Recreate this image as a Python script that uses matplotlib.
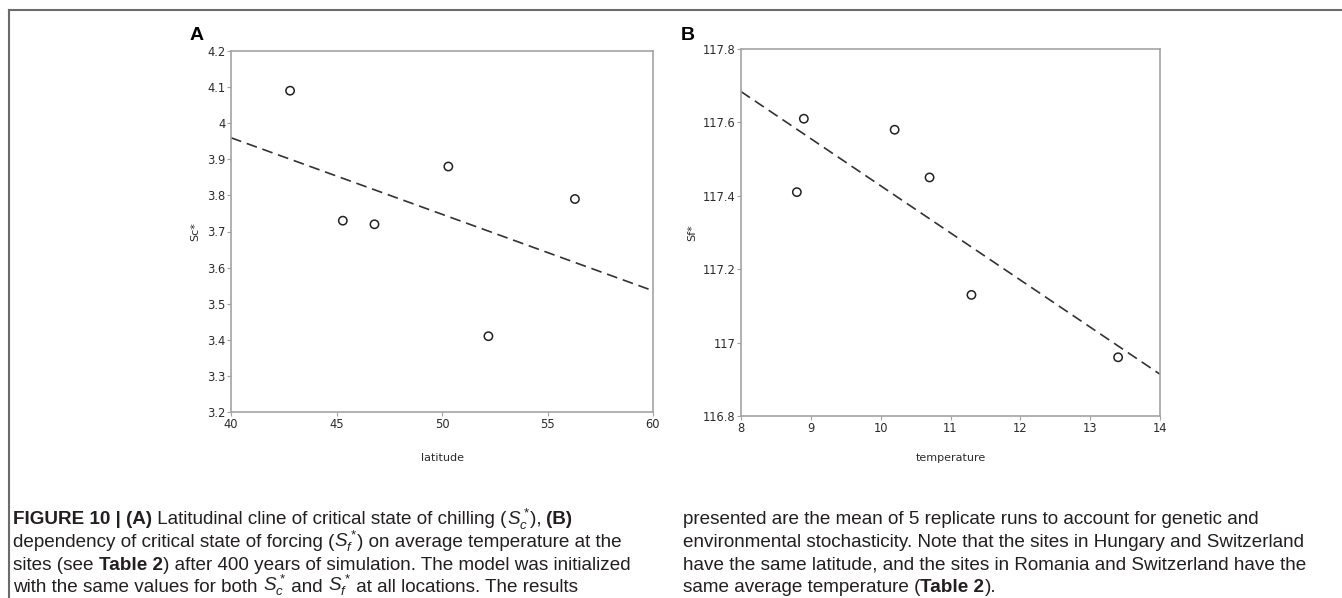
import numpy as np
import matplotlib
matplotlib.use("Agg")
import matplotlib.pyplot as plt
from matplotlib.lines import Line2D

# data
lat = [42.8, 45.3, 46.8, 50.3, 52.2, 56.3]
sc = [4.09, 3.73, 3.72, 3.88, 3.41, 3.79]
temp = [8.8, 8.9, 10.2, 10.7, 11.3, 13.4]
sf = [117.41, 117.61, 117.58, 117.45, 117.13, 116.96]

a_xticks = [40, 45, 50, 55, 60]
a_yticks = [3.2, 3.3, 3.4, 3.5, 3.6, 3.7, 3.8, 3.9, 4.0, 4.1, 4.2]
a_ylabels = ["3.2", "3.3", "3.4", "3.5", "3.6", "3.7", "3.8", "3.9", "4", "4.1", "4.2"]
b_xticks = [8, 9, 10, 11, 12, 13, 14]
b_yticks = [116.8, 117.0, 117.2, 117.4, 117.6, 117.8]
b_ylabels = ["116.8", "117", "117.2", "117.4", "117.6", "117.8"]

W, H = 1342, 598
plt.rcParams['mathtext.fontset'] = 'custom'
plt.rcParams['mathtext.rm'] = 'Liberation Sans'
plt.rcParams['mathtext.it'] = 'Liberation Sans:italic'
plt.rcParams['mathtext.bf'] = 'Liberation Sans:bold'

fig = plt.figure(figsize=(W / 100, H / 100), dpi=100)
renderer = fig.canvas.get_renderer()

spine_col = '#a3a3a3'
tick_col = '#2b2b2b'


def panel(rect, x, y, xt, yt, ylab, xlim, ylim, xlabel, ylabel, ylab_x, xlab_y):
    ax = fig.add_axes(rect)
    ax.scatter(x, y, s=36, facecolors='none', edgecolors='#222222', linewidths=1.1, zorder=3)
    # least squares line through the points, drawn across the whole x range
    k, b = np.polyfit(x, y, 1)
    xx = np.array(xlim, dtype=float)
    ln, = ax.plot(xx, k * xx + b, color='#333333', lw=1.2)
    ln.set_dashes([6.5, 3.5])
    ax.set_xlim(xlim)
    ax.set_ylim(ylim)
    ax.set_xticks(xt)
    ax.set_xticklabels([str(v) for v in xt])
    ax.set_yticks(yt)
    ax.set_yticklabels(ylab)
    for s in ax.spines.values():
        s.set_color(spine_col)
        s.set_linewidth(1.2)
    ax.tick_params(direction='out', length=3, width=0.8, color=spine_col,
                   labelsize=8.3, labelcolor=tick_col, pad=1)
    ax.set_xlabel(xlabel, fontsize=8, color=tick_col)
    ax.set_ylabel(ylabel, fontsize=8, color=tick_col)
    ax.xaxis.set_label_coords(0.5, xlab_y)
    ax.xaxis.label.set_va('center')
    ax.yaxis.set_label_coords(ylab_x, 0.5)
    ax.yaxis.label.set_va('center')
    return ax


axA = panel([231 / W, 1 - 412 / H, 422 / W, 361 / H], lat, sc, a_xticks, a_yticks, a_ylabels,
            (40, 60), (3.2, 4.2), 'latitude', 'Sc*', -0.085, -0.127)
axB = panel([741 / W, 1 - 416 / H, 419 / W, 367 / H], temp, sf, b_xticks, b_yticks, b_ylabels,
            (8, 14), (116.8, 117.8), 'temperature', 'Sf*', -0.117, -0.114)

fig.text(197 / W, 1 - 36 / H, 'A', fontsize=14, weight='bold', family='Liberation Sans',
         ha='center', va='center')
fig.text(688 / W, 1 - 36 / H, 'B', fontsize=14, weight='bold', family='Liberation Sans',
         ha='center', va='center')

# frame lines of the figure box
fig.add_artist(Line2D([9 / W, 1.0], [1 - 10 / H, 1 - 10 / H], transform=fig.transFigure,
                      color='#6b6b6b', lw=1.5))
fig.add_artist(Line2D([9 / W, 9 / W], [1 - 10 / H, 0.0], transform=fig.transFigure,
                      color='#6b6b6b', lw=1.5))

# caption
cap_family = 'Liberation Sans'
cap_col = '#231f20'

left_lines = [
    [("FIGURE 10 | (A)", 'bold'), (" Latitudinal cline of critical state of chilling (", 'normal'),
     (r"$S_c^*$", 'normal'), ("), ", 'normal'), ("(B)", 'bold')],
    [("dependency of critical state of forcing (", 'normal'), (r"$S_f^*$", 'normal'),
     (") on average temperature at the", 'normal')],
    [("sites (see ", 'normal'), ("Table 2", 'bold'),
     (") after 400 years of simulation. The model was initialized", 'normal')],
    [("with the same values for both ", 'normal'), (r"$S_c^*$", 'normal'), (" and ", 'normal'),
     (r"$S_f^*$", 'normal'), (" at all locations. The results", 'normal')],
]
right_lines = [
    [("presented are the mean of 5 replicate runs to account for genetic and", 'normal')],
    [("environmental stochasticity. Note that the sites in Hungary and Switzerland", 'normal')],
    [("have the same latitude, and the sites in Romania and Switzerland have the", 'normal')],
    [("same average temperature (", 'normal'), ("Table 2", 'bold'), (").", 'normal')],
]


def run_width(txt, w, size):
    if txt.startswith('$'):
        t = fig.text(0, 0, txt, fontsize=size, weight=w, family=cap_family)
        wd = t.get_window_extent(renderer).width
        t.remove()
        return wd
    t1 = fig.text(0, 0, txt + '|', fontsize=size, weight=w, family=cap_family)
    t2 = fig.text(0, 0, '|', fontsize=size, weight=w, family=cap_family)
    wd = t1.get_window_extent(renderer).width - t2.get_window_extent(renderer).width
    t1.remove()
    t2.remove()
    return wd


def line_width(runs, size):
    return sum(run_width(t, w, size) for t, w in runs)


# caption size chosen so that line 3 spans the same width as in the original
cap_size = 10 * 623 / line_width(left_lines[2], 10)


def draw_runs(runs, x, y):
    for txt, w in runs:
        fig.text(x / W, 1 - y / H, txt, fontsize=cap_size, weight=w, family=cap_family,
                 color=cap_col, ha='left', va='baseline')
        x += run_width(txt, w, cap_size)


baselines = [524.5, 547, 569.5, 591.5]
for runs, yb in zip(left_lines, baselines):
    draw_runs(runs, 13, yb)
for runs, yb in zip(right_lines, baselines):
    draw_runs(runs, 683, yb)

fig.savefig('out.png', dpi=100)
